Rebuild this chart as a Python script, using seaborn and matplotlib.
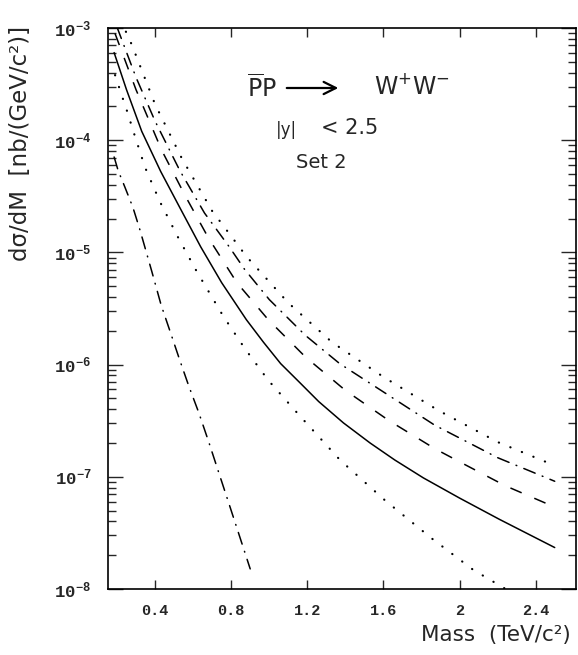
import numpy as np
import pandas as pd
import matplotlib
matplotlib.use("Agg")
import matplotlib.pyplot as plt
import seaborn as sns
from matplotlib.ticker import FixedLocator, FixedFormatter, LogLocator, NullFormatter

# DATA (mass in TeV/c^2, dsigma/dM in nb/(GeV/c^2))
solid_m = [0.185, 0.25, 0.33, 0.43, 0.53, 0.64, 0.75, 0.88, 0.97, 1.06, 1.16, 1.26, 1.39,
           1.53, 1.66, 1.81, 2.0, 2.21, 2.5]
solid_v = [6.03e-4, 2.82e-4, 1.20e-4, 5.25e-5, 2.51e-5, 1.12e-5, 5.37e-6, 2.51e-6,
           1.58e-6, 1.02e-6, 6.92e-7, 4.68e-7, 3.02e-7, 2.00e-7, 1.41e-7, 9.77e-8,
           6.46e-8, 4.17e-8, 2.34e-8]

dashed_m = [0.19, 0.3, 0.435, 0.56, 0.68, 0.83, 0.995, 1.19, 1.40, 1.63, 1.87,
            2.0, 2.24, 2.5]
dashed_v = [8.91e-4, 2.82e-4, 8.13e-5, 3.16e-5, 1.35e-5, 5.37e-6, 2.51e-6, 1.17e-6,
            5.89e-7, 3.16e-7, 1.78e-7, 1.36e-7, 8.32e-8, 5.37e-8]

dashdot_m = [0.2, 0.3, 0.4, 0.53, 0.66, 0.79, 0.87, 1.0, 1.19, 1.37, 1.56, 1.87, 2.2, 2.5]
dashdot_v = [1.02e-3, 3.63e-4, 1.48e-4, 5.37e-5, 2.24e-5, 1.12e-5, 7.08e-6, 3.80e-6,
             1.82e-6, 1.02e-6, 6.31e-7, 2.88e-7, 1.48e-7, 9.12e-8]

upper_dot_m = [0.22, 0.278, 0.4, 0.54, 0.7, 0.882, 1.1, 1.33, 1.6, 1.89, 2.2, 2.5]
upper_dot_v = [1.17e-3, 7.08e-4, 2.09e-4, 6.92e-5, 2.34e-5, 9.12e-6, 3.55e-6, 1.58e-6,
               7.76e-7, 3.89e-7, 2.04e-7, 1.26e-7]

lower_dot_m = [0.19, 0.225, 0.251, 0.286, 0.347, 0.426, 0.522, 0.619, 0.759, 0.873,
               0.995, 1.162, 1.372, 1.608, 1.854, 2.072, 2.242, 2.3]
lower_dot_v = [3.80e-4, 2.51e-4, 1.86e-4, 1.20e-4, 5.75e-5, 2.82e-5, 1.35e-5, 6.76e-6,
               2.69e-6, 1.38e-6, 7.24e-7, 3.47e-7, 1.41e-7, 6.17e-8, 2.82e-8, 1.48e-8,
               1.0e-8, 8.51e-9]

lower_dd_m = [0.185, 0.206, 0.242, 0.284, 0.321, 0.383, 0.432, 0.482, 0.528, 0.577,
              0.630, 0.684, 0.715, 0.80, 0.90]
lower_dd_v = [7.08e-5, 5.37e-5, 3.80e-5, 2.51e-5, 1.58e-5, 6.76e-6, 3.39e-6, 1.91e-6,
              1.12e-6, 6.46e-7, 3.72e-7, 2.00e-7, 1.38e-7, 5.01e-8, 1.51e-8]

xticks = [0.4, 0.8, 1.2, 1.6, 2.0, 2.4]
xticklabels = ["0.4", "0.8", "1.2", "1.6", "2", "2.4"]
yticks = [1e-8, 1e-7, 1e-6, 1e-5, 1e-4, 1e-3]
yticklabels = [r"$\mathtt{10^{-8}}$", r"$\mathtt{10^{-7}}$", r"$\mathtt{10^{-6}}$",
               r"$\mathtt{10^{-5}}$", r"$\mathtt{10^{-4}}$", r"$\mathtt{10^{-3}}$"]


sns.set_style("ticks")
plt.rcParams["font.family"] = ["DejaVu Sans"]
plt.rcParams["mathtext.fontset"] = "custom"
plt.rcParams["mathtext.tt"] = "Liberation Mono:bold"
plt.rcParams["mathtext.sf"] = "DejaVu Sans"
plt.rcParams["mathtext.rm"] = "DejaVu Sans"

fig = plt.figure(figsize=(5.78, 6.55), dpi=100)
ax = fig.add_axes([0.1869, 0.1008, 0.8097, 0.8565])

lw = 1.1
dot_style = dict(color="black", linewidth=1.6, linestyle=(0, (0.1, 5.5)),
                 dash_capstyle="round")
dd_style = dict(color="black", linewidth=lw, linestyle=(0, (8, 5, 0.5, 5)),
                dash_capstyle="round")

sns.lineplot(x=upper_dot_m, y=upper_dot_v, ax=ax, sort=False, estimator=None, **dot_style)
sns.lineplot(x=dashdot_m, y=dashdot_v, ax=ax, sort=False, estimator=None, **dd_style)
sns.lineplot(x=dashed_m, y=dashed_v, ax=ax, sort=False, estimator=None,
             color="black", linewidth=lw, linestyle=(0, (8, 9)))
sns.lineplot(x=solid_m, y=solid_v, ax=ax, sort=False, estimator=None,
             color="black", linewidth=lw, linestyle="-")
sns.lineplot(x=lower_dot_m, y=lower_dot_v, ax=ax, sort=False, estimator=None, **dot_style)
sns.lineplot(x=lower_dd_m, y=lower_dd_v, ax=ax, sort=False, estimator=None, **dd_style)

ax.set_yscale("log")
ax.set_xlim(0.153, 2.612)
ax.set_ylim(1e-8, 1e-3)

ax.xaxis.set_major_locator(FixedLocator(xticks))
ax.xaxis.set_major_formatter(FixedFormatter(xticklabels))
ax.yaxis.set_major_locator(FixedLocator(yticks))
ax.yaxis.set_major_formatter(FixedFormatter(yticklabels))
ax.yaxis.set_minor_locator(LogLocator(base=10, subs=np.arange(2, 10)))
ax.yaxis.set_minor_formatter(NullFormatter())

ax.tick_params(which="both", direction="in", top=True, right=True, width=1.0)
ax.tick_params(axis="x", which="major", length=6.5, pad=11)
ax.tick_params(axis="y", which="major", length=11, pad=12)
ax.tick_params(axis="y", which="minor", length=5.5)
for lab in ax.get_xticklabels():
    lab.set_fontfamily("Liberation Mono")
    lab.set_fontweight("bold")
    lab.set_fontsize(11)
for lab in ax.get_yticklabels():
    lab.set_fontsize(12.5)

for sp in ax.spines.values():
    sp.set_linewidth(1.2)
    sp.set_color("black")

ax.set_xlabel("")
ax.set_ylabel("")

# annotations
ax.text(0.329, 0.893, r"$\mathsf{\overline{P}P}$", transform=ax.transAxes,
        fontsize=17, ha="center", va="center")
ax.annotate("", xy=(0.498, 0.893), xytext=(0.376, 0.893), xycoords="axes fraction",
            arrowprops=dict(arrowstyle="->", color="black", lw=1.6,
                            mutation_scale=22))
ax.text(0.650, 0.896, r"$\mathsf{W^{+}W^{-}}$", transform=ax.transAxes,
        fontsize=17, ha="center", va="center")
ax.text(0.382, 0.818, "|y|", transform=ax.transAxes, fontsize=12,
        ha="center", va="center")
ax.text(0.517, 0.822, "< 2.5", transform=ax.transAxes, fontsize=15,
        ha="center", va="center")
ax.text(0.455, 0.761, "Set 2", transform=ax.transAxes, fontsize=14,
        ha="center", va="center")

fig.text(0.987, 0.031, "Mass  (TeV/c²)", fontsize=15.5, ha="right", va="center")
fig.text(0.035, 0.781, "dσ/dM  [nb/(GeV/c²)]", fontsize=16.5, rotation=90,
         ha="center", va="center")

fig.savefig("out.png", dpi=100)
